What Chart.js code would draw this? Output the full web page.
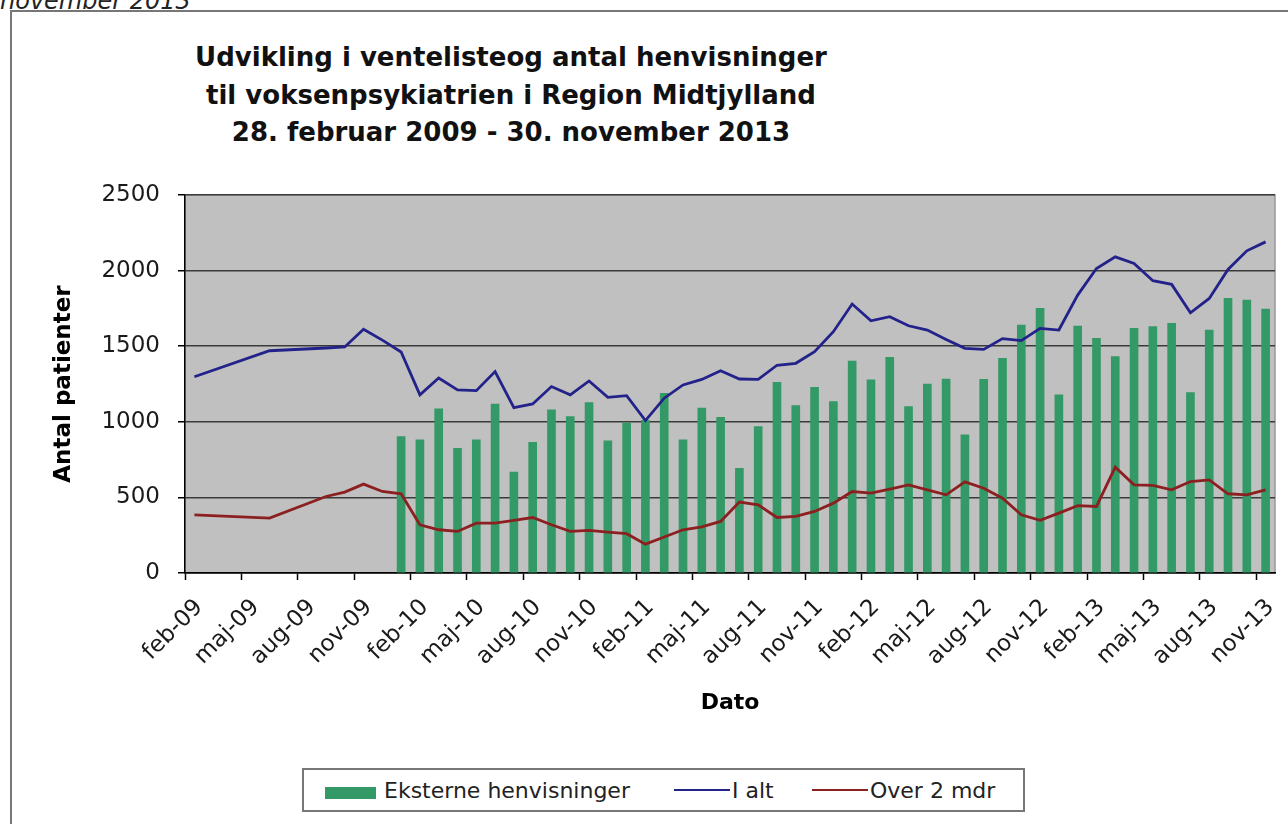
<!DOCTYPE html>
<html lang="da">
<head>
<meta charset="utf-8">
<title>Udvikling i venteliste og antal henvisninger</title>
<script src="https://cdn.jsdelivr.net/npm/chart.js@4.4.1/dist/chart.umd.min.js"></script>
<style>
  html, body { margin: 0; padding: 0; background: #fff; overflow: hidden; }
  body { width: 1288px; height: 824px; position: relative; font-family: 'DejaVu Sans', sans-serif; }
  #heading { position: absolute; left: 0; top: -11px; font-style: italic; font-size: 24px; line-height: 24px; color: #222; white-space: nowrap; }
  #frame { position: absolute; left: 10px; top: 10px; width: 1320px; height: 900px; border: 2px solid #777; }
  #chart { position: absolute; left: 0; top: 0; }
  #title { position: absolute; left: 161px; top: 39px; width: 700px; text-align: center; font-weight: bold; font-size: 26px; line-height: 37.5px; color: #111; }
  #legend { position: absolute; left: 302px; top: 768px; width: 723px; height: 44px; box-sizing: border-box; border: 2px solid #777; background: #fff; }
  .lg { position: absolute; font-size: 22px; line-height: 22px; color: #222; white-space: nowrap; }
  .sw { position: absolute; }
</style>
</head>
<body>
<div id="heading">november 2013</div>
<div id="frame"></div>
<div id="title">Udvikling i ventelisteog antal henvisninger<br>til voksenpsykiatrien i Region Midtjylland<br>28. februar 2009 - 30. november 2013</div>
<canvas id="chart" width="1288" height="824"></canvas>
<div id="legend"></div>
<script>
// ── Data ─────────────────────────────────────────────────────────────
const MONTHS = [
  'feb-09', 'mar-09', 'apr-09', 'maj-09', 'jun-09', 'jul-09', 'aug-09', 'sep-09', 'okt-09', 'nov-09', 'dec-09',
  'jan-10', 'feb-10', 'mar-10', 'apr-10', 'maj-10', 'jun-10', 'jul-10', 'aug-10', 'sep-10', 'okt-10', 'nov-10', 'dec-10',
  'jan-11', 'feb-11', 'mar-11', 'apr-11', 'maj-11', 'jun-11', 'jul-11', 'aug-11', 'sep-11', 'okt-11', 'nov-11', 'dec-11',
  'jan-12', 'feb-12', 'mar-12', 'apr-12', 'maj-12', 'jun-12', 'jul-12', 'aug-12', 'sep-12', 'okt-12', 'nov-12', 'dec-12',
  'jan-13', 'feb-13', 'mar-13', 'apr-13', 'maj-13', 'jun-13', 'jul-13', 'aug-13', 'sep-13', 'okt-13', 'nov-13',
];

// Eksterne henvisninger (søjler), fra jan-10
const EKSTERNE = [
  null, null, null, null, null, null, null, null, null, null, null,
  902, 880, 1085, 825, 880, 1118, 667, 865, 1079, 1035, 1127, 874,
  991, 1010, 1189, 880, 1090, 1030, 693, 968, 1261, 1107, 1228, 1134,
  1402, 1277, 1427, 1100, 1250, 1283, 913, 1281, 1420, 1640, 1750, 1178,
  1633, 1552, 1431, 1618, 1629, 1651, 1193, 1607, 1816, 1805, 1746,
];

// I alt (venteliste)
const I_ALT = [
  1298, null, null, null, 1470, null, null, 1488, 1495, 1612, 1540,
  1462, 1178, 1290, 1211, 1206, 1332, 1094, 1118, 1233, 1178, 1270, 1162,
  1173, 1008, 1156, 1244, 1280, 1338, 1283, 1281, 1374, 1387, 1464, 1596,
  1779, 1668, 1695, 1635, 1607, 1545, 1486, 1479, 1550, 1537, 1618, 1607,
  1838, 2014, 2091, 2047, 1933, 1909, 1721, 1816, 2008, 2131, 2190,
];

// Over 2 mdr
const OVER_2_MDR = [
  385, null, null, null, 363, null, null, 506, 535, 588, 539,
  524, 319, 286, 275, 330, 330, 348, 367, 319, 275, 282, 271,
  260, 191, 238, 286, 305, 341, 469, 451, 367, 374, 407, 462,
  539, 528, 555, 583, 550, 517, 603, 561, 495, 385, 348, 396,
  445, 440, 700, 583, 579, 550, 605, 616, 524, 517, 550,
];

const Y_TICKS = [0, 500, 1000, 1500, 2000, 2500];

const COLOR_BAR = '#339966';
const COLOR_ALT = '#22228a';
const COLOR_OVER = '#8c2020';

// ── Plot background (grå) ─────────────────────────────────────────────
const plotBackground = {
  id: 'plotBackground',
  beforeDraw(chart) {
    const { ctx, chartArea: a } = chart;
    ctx.save();
    ctx.fillStyle = '#c0c0c0';
    ctx.fillRect(a.left, a.top, a.right - a.left, a.bottom - a.top);
    ctx.strokeStyle = '#999';
    ctx.lineWidth = 1.5;
    ctx.strokeRect(a.left, a.top, a.right - a.left, a.bottom - a.top);
    ctx.restore();
  },
};

Chart.defaults.font.family = "'DejaVu Sans', sans-serif";
Chart.defaults.color = '#1a1a1a';

new Chart(document.getElementById('chart'), {
  type: 'bar',
  data: {
    labels: MONTHS,
    datasets: [
      {
        type: 'line',
        label: 'I alt',
        data: I_ALT,
        borderColor: COLOR_ALT,
        borderWidth: 2.8,
        pointRadius: 0,
        spanGaps: true,
        tension: 0,
        order: 1,
      },
      {
        type: 'line',
        label: 'Over 2 mdr',
        data: OVER_2_MDR,
        borderColor: COLOR_OVER,
        borderWidth: 2.8,
        pointRadius: 0,
        spanGaps: true,
        tension: 0,
        order: 2,
      },
      {
        label: 'Eksterne henvisninger',
        data: EKSTERNE,
        backgroundColor: COLOR_BAR,
        barThickness: 8,
        order: 3,
      },
    ],
  },
  options: {
    responsive: false,
    animation: false,
    layout: { padding: { top: 195, right: 13, left: 40, bottom: 100 } },
    plugins: {
      legend: { display: false },
      tooltip: { enabled: false },
    },
    scales: {
      x: {
        offset: true,
        grid: {
          offset: true,
          drawOnChartArea: false,
          drawTicks: true,
          tickLength: 7,
          tickWidth: 1.5,
          // kun tick-streger ved hver 3. måned
          tickColor: (ctx) => (ctx.index !== undefined && ctx.index % 3 === 0 ? '#000' : 'rgba(0,0,0,0)'),
        },
        border: { display: true, color: '#000', width: 1.5 },
        ticks: {
          autoSkip: false,
          maxRotation: 45,
          minRotation: 45,
          padding: 14,
          labelOffset: 5,
          font: { size: 23 },
          callback: (val, i) => (i % 3 === 0 ? MONTHS[i] : ''),
        },
        title: {
          display: true,
          text: 'Dato',
          font: { size: 22, weight: 'bold' },
          color: '#000',
          padding: { top: 0, bottom: 8 },
        },
        afterFit: (scale) => {
          scale.height = 151;
          // plotområdet skal gå helt ud til højre kant
          scale.paddingLeft = 0;
          scale.paddingRight = 0;
        },
      },
      y: {
        min: 0,
        max: 2500,
        afterBuildTicks: (scale) => { scale.ticks = Y_TICKS.map(v => ({ value: v })); },
        grid: {
          color: '#3a3a3a',
          lineWidth: 1.5,
          tickLength: 7,
          tickColor: '#000',
        },
        border: { display: true, color: '#000', width: 1.5 },
        ticks: {
          padding: 18,
          font: { size: 23 },
          callback: (v) => String(v),
        },
        title: {
          display: true,
          text: 'Antal patienter',
          font: { size: 23, weight: 'bold' },
          color: '#000',
          padding: { top: 10, bottom: 0 },
        },
        afterFit: (scale) => { scale.width = 145; },
      },
    },
  },
  plugins: [plotBackground],
});

// ── Legend (HTML) ────────────────────────────────────────────────────
const legendItems = [
  { kind: 'bar', color: COLOR_BAR, text: 'Eksterne henvisninger', sx: 323, tx: 382 },
  { kind: 'line', color: COLOR_ALT, text: 'I alt', sx: 672, tx: 730 },
  { kind: 'line', color: COLOR_OVER, text: 'Over 2 mdr', sx: 810, tx: 868 },
];
const legendEl = document.getElementById('legend');
legendItems.forEach(item => {
  const sw = document.createElement('div');
  sw.className = 'sw';
  sw.style.background = item.color;
  if (item.kind === 'bar') {
    sw.style.left = (item.sx - 302) + 'px';
    sw.style.top = (785 - 768) + 'px';
    sw.style.width = '51px';
    sw.style.height = '12px';
  } else {
    sw.style.left = (item.sx - 302) + 'px';
    sw.style.top = (787 - 768) + 'px';
    sw.style.width = '56px';
    sw.style.height = '2px';
  }
  legendEl.appendChild(sw);
  const t = document.createElement('span');
  t.className = 'lg';
  t.textContent = item.text;
  t.style.left = (item.tx - 302) + 'px';
  t.style.top = (778 - 768) + 'px';
  legendEl.appendChild(t);
});
</script>
</body>
</html>
